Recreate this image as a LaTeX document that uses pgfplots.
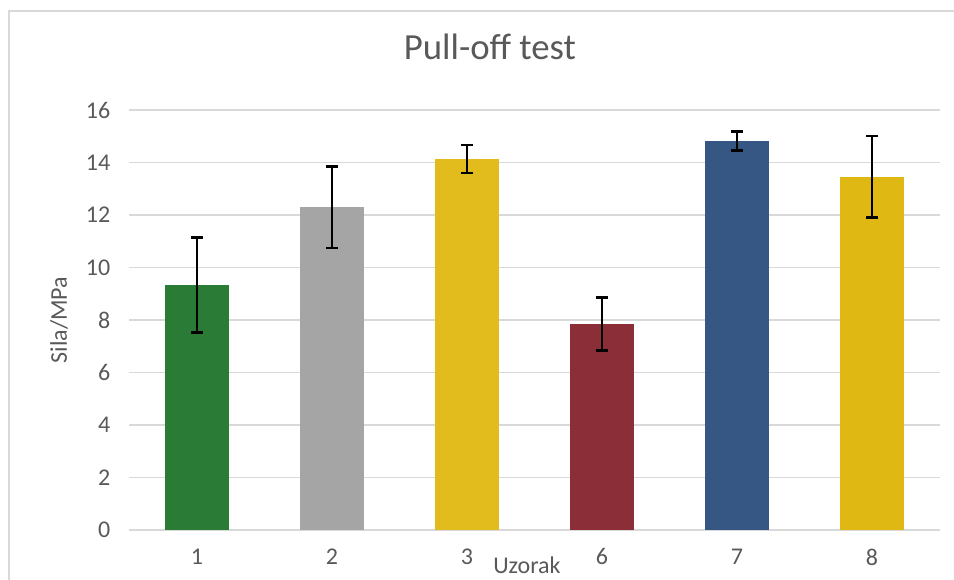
\documentclass[border=0pt]{standalone}
\usepackage{pgfplots}
\pgfplotsset{compat=1.18}
\usepackage{fontspec}
\setmainfont{Carlito}
\definecolor{gridgray}{HTML}{D9D9D9}
\definecolor{txtgray}{HTML}{595959}
\definecolor{cgreen}{HTML}{2A7B35}
\definecolor{cgray}{HTML}{A5A5A5}
\definecolor{cyellow}{HTML}{E2BC1C}
\definecolor{cred}{HTML}{8B2E37}
\definecolor{cblue}{HTML}{365783}
\definecolor{cyellowb}{HTML}{DFB814}
\begin{document}
\begin{tikzpicture}
\path[use as bounding box] (-97.125pt,-36.75pt) rectangle (618.375pt,397.5pt);
\draw[gridgray, line width=1pt] (631pt,389.25pt) -- (-90.375pt,389.25pt) -- (-90.375pt,-60pt);
\begin{axis}[
  at={(0,0)}, anchor=south west,
  scale only axis, width=607.5pt, height=315pt,
  xmin=-0.5, xmax=5.5, ymin=0, ymax=16,
  ytick={0,2,...,16},
  xtick={0,1,2,3,4,5}, xticklabels={1,2,3,6,7,8},
  axis line style={draw=none},
  major tick length=0pt,
  ymajorgrids, grid style={gridgray, line width=1.4pt},
  /pgf/number format/assume math mode=true,
  tick label style={font=\fontsize{18}{21}\selectfont, text=txtgray},
  xticklabel style={yshift=-10.5pt},
  yticklabel style={xshift=-10.9pt},
  ybar, bar width=0.474, bar shift=0pt,
  title={Pull-off test},
  title style={at={(axis description cs:0.445,1.1)}, anchor=base, font=\fontsize{27.6}{32}\selectfont, text=txtgray},
  xlabel={Uzorak},
  xlabel style={at={(axis description cs:0.4907,-0.084)}, anchor=center, font=\fontsize{18}{21}\selectfont, text=txtgray},
  ylabel={Sila/MPa},
  ylabel style={at={(axis description cs:-0.087,0.5)}, anchor=center, font=\fontsize{18}{21}\selectfont, text=txtgray},
  error bars/error bar style={black, line width=1.7pt},
  error bars/error mark options={rotate=90, mark size=4.5pt, line width=1.7pt, black},
]
\addplot[fill=cgreen, draw=none, error bars/.cd, y dir=both, y explicit] coordinates {(0,9.33) +- (0,1.81)};
\addplot[fill=cgray, draw=none, error bars/.cd, y dir=both, y explicit] coordinates {(1,12.30) +- (0,1.55)};
\addplot[fill=cyellow, draw=none, error bars/.cd, y dir=both, y explicit] coordinates {(2,14.13) +- (0,0.54)};
\addplot[fill=cred, draw=none, error bars/.cd, y dir=both, y explicit] coordinates {(3,7.85) +- (0,1.01)};
\addplot[fill=cblue, draw=none, error bars/.cd, y dir=both, y explicit] coordinates {(4,14.82) +- (0,0.36)};
\addplot[fill=cyellowb, draw=none, error bars/.cd, y dir=both, y explicit] coordinates {(5,13.45) +- (0,1.55)};
\end{axis}
\end{tikzpicture}
\end{document}
